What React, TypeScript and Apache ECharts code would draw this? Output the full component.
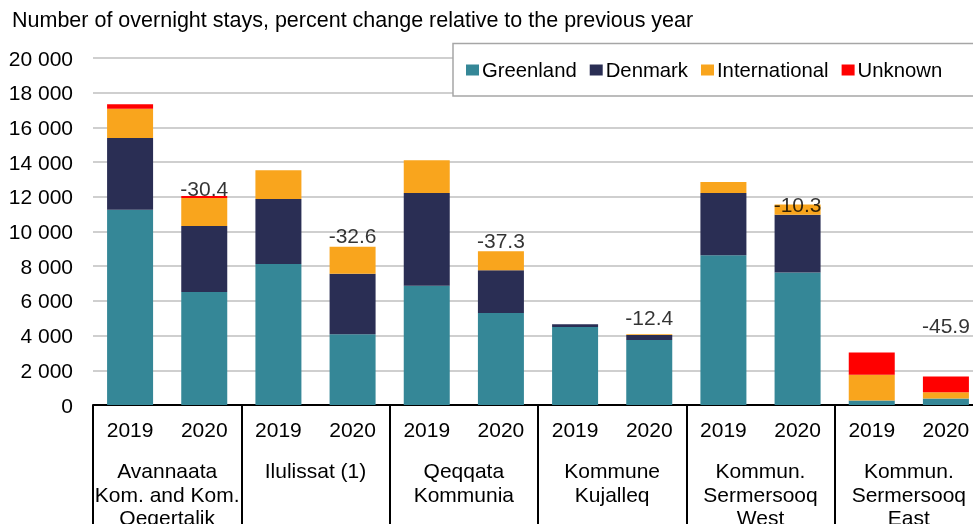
import React, { useEffect, useRef } from "react";
import * as echarts from "echarts";

const years = ["2019", "2020", "2019", "2020", "2019", "2020", "2019", "2020", "2019", "2020", "2019", "2020"];
const groups = [
  "Avannaata\nKom. and Kom.\nQeqertalik",
  "Ilulissat (1)",
  "Qeqqata\nKommunia",
  "Kommune\nKujalleq",
  "Kommun.\nSermersooq\nWest",
  "Kommun.\nSermersooq\nEast",
];
const greenland = [11260, 6510, 8120, 4080, 6880, 5300, 4490, 3750, 8630, 7630, 260, 375];
const denmark = [4130, 3810, 3760, 3490, 5340, 2460, 170, 280, 3590, 3340, 0, 0];
const international = [1680, 1610, 1650, 1550, 1890, 1100, 0, 50, 640, 580, 1480, 365];
const unknown = [270, 120, 0, 0, 0, 0, 0, 0, 0, 0, 1290, 900];
const changes: (number | null)[] = [null, -30.4, null, -32.6, null, -37.3, null, -12.4, null, -10.3, null, -45.9];
const labelLift = [0, -7, 0, -11, 0, -11, 0, -17, 0, 0, 0, -51];

const FONT = "'Liberation Sans', Arial, sans-serif";
const colors = {
  Greenland: "#358797",
  Denmark: "#2a2e54",
  International: "#f9a51d",
  Unknown: "#ff0000",
};

export default function App() {
  const ref = useRef<HTMLDivElement>(null);
  useEffect(() => {
    if (!ref.current) return;
    document.body.style.overflow = "hidden";
    const chart = echarts.init(ref.current, undefined, { renderer: "svg" });
    const totals = years.map((_, i) => greenland[i] + denmark[i] + international[i] + unknown[i]);
    const barSeries = (name: string, data: number[]) => ({
      name,
      type: "bar",
      stack: "total",
      data,
      barWidth: 46,
      itemStyle: { color: (colors as any)[name] },
      xAxisIndex: 0,
      yAxisIndex: 0,
    });
    chart.setOption({
      animation: false,
      textStyle: { fontFamily: FONT },
      title: {
        text: "Number of overnight stays, percent change relative to the previous year",
        left: 12,
        top: 9,
        padding: 0,
        textStyle: { fontSize: 21.5, fontWeight: "normal", color: "#000", fontFamily: FONT },
      },
      legend: {
        data: ["Greenland", "Denmark", "International", "Unknown"],
        left: 466,
        top: 60,
        padding: 0,
        itemGap: 13,
        itemWidth: 13,
        itemHeight: 11,
        icon: "rect",
        textStyle: { fontSize: 20.3, color: "#000", fontFamily: FONT, padding: [0, 0, 0, -2] },
        z: 10,
      },
      graphic: [
        {
          type: "rect",
          z: 5,
          shape: { x: 453, y: 43.5, width: 600, height: 52.5 },
          style: { fill: "#fff", stroke: "#a6a6a6", lineWidth: 1.5 },
        },
      ],
      grid: { left: 93, right: 0, top: 58, bottom: 119, containLabel: false, outerBoundsMode: "none" },
      xAxis: [
        {
          type: "category",
          data: years,
          position: "bottom",
          axisLine: { show: true, lineStyle: { color: "#000", width: 2 } },
          axisTick: { show: false },
          axisLabel: { interval: 0, margin: 14, fontSize: 21, color: "#000", fontFamily: FONT },
          splitLine: { show: false },
        },
        {
          type: "category",
          data: groups,
          position: "bottom",
          axisLine: { show: false },
          axisTick: { show: true, interval: 0, length: 120, lineStyle: { color: "#000", width: 2 } },
          axisLabel: {
            interval: 0,
            margin: 54,
            fontSize: 21,
            lineHeight: 23.5,
            color: "#000",
            fontFamily: FONT,
            align: "center",
          },
          splitLine: { show: false },
        },
      ],
      yAxis: {
        type: "value",
        min: 0,
        max: 20000,
        interval: 2000,
        axisLine: { show: false },
        axisTick: { show: false },
        axisLabel: {
          margin: 20,
          fontSize: 21,
          color: "#000",
          fontFamily: FONT,
          formatter: (v: number) => String(v).replace(/\B(?=(\d{3})+(?!\d))/g, " "),
        },
        splitLine: { show: true, lineStyle: { color: "#bfbfbf", width: 1.5 } },
      },
      series: [
        barSeries("Greenland", greenland),
        barSeries("Denmark", denmark),
        barSeries("International", international),
        barSeries("Unknown", unknown),
        {
          name: "change",
          type: "scatter",
          xAxisIndex: 0,
          yAxisIndex: 0,
          symbolSize: 1,
          itemStyle: { color: "rgba(0,0,0,0)" },
          z: 6,
          data: years.map((_, i) =>
            changes[i] === null
              ? { value: [i, "-"] }
              : {
                  value: [i, totals[i]],
                  label: {
                    show: true,
                    position: "inside",
                    offset: [0, labelLift[i]],
                    formatter: String(changes[i]),
                    fontSize: 21,
                    color: "#000",
                    fontFamily: FONT,
                  },
                }
          ),
        },
      ],
    });
    return () => chart.dispose();
  }, []);
  return <div ref={ref} style={{ position: "fixed", left: 0, top: 0, width: 983, height: 524 }} />;
}
